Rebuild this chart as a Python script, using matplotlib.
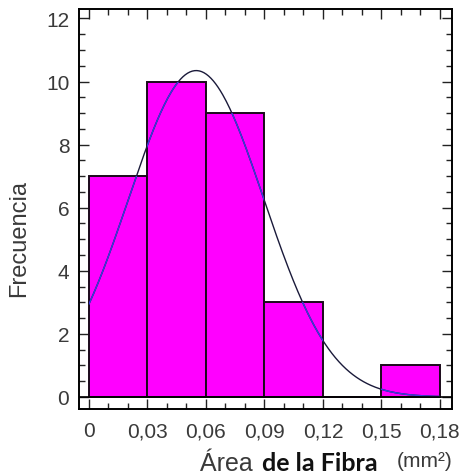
import numpy as np
import matplotlib.pyplot as plt
from matplotlib.ticker import MultipleLocator, FuncFormatter

# histogram of fibre area
bin_left = [0.0, 0.03, 0.06, 0.09, 0.12, 0.15]
counts = [7, 10, 9, 3, 0, 1]
bin_width = 0.03
xticks = [0, 0.03, 0.06, 0.09, 0.12, 0.15, 0.18]
yticks = [0, 2, 4, 6, 8, 10, 12]

# fitted normal
fit_mean = 0.055
fit_std = 0.0347
n_total = sum(counts)

plt.rcParams['font.family'] = ['Liberation Sans', 'DejaVu Sans']

fig = plt.figure(figsize=(4.63, 4.77), dpi=100)
ax = fig.add_axes([0.1706, 0.1405, 0.8056, 0.8386])

bars = ax.bar(bin_left, counts, width=bin_width, align='edge',
              color='#ff00ff', edgecolor='#1a0a1a', linewidth=1.4, zorder=2)

xs = np.linspace(0, 0.18, 300)
ys = n_total * bin_width / (fit_std * np.sqrt(2 * np.pi)) * np.exp(-0.5 * ((xs - fit_mean) / fit_std) ** 2)
ax.plot(xs, ys, color='#1a1a3a', lw=1.0, zorder=3)
# curve looks blue where it crosses the bars
for b in bars:
    ln, = ax.plot(xs, ys, color='#3a3ae0', lw=1.0, zorder=4)
    ln.set_clip_path(b)

ax.axhline(0, color='black', lw=1.2, zorder=5)

ax.set_xlim(-0.0051, 0.1862)
ax.set_ylim(-0.38, 12.3)
ax.set_xticks(xticks)
ax.set_yticks(yticks)
ax.xaxis.set_minor_locator(MultipleLocator(0.01))
ax.yaxis.set_minor_locator(MultipleLocator(0.5))
ax.xaxis.set_major_formatter(FuncFormatter(lambda v, p: '0' if abs(v) < 1e-9 else ('%.2f' % v).replace('.', ',')))
ax.tick_params(which='both', direction='in', top=True, right=True, width=1.0, color='#222222')
ax.tick_params(which='major', length=7, labelsize=15, labelcolor='#3a3a3a')
ax.tick_params(axis='x', which='major', pad=9)
ax.tick_params(axis='y', which='major', pad=7)
ax.tick_params(which='minor', length=4)
for s in ax.spines.values():
    s.set_linewidth(1.4)

fig.text(0.018, 0.5, 'Frecuencia', rotation=90, fontsize=17, color='#3a3a3a', va='center', ha='left')
fig.text(0.432, 0.012, 'Área', fontsize=18, color='#3a3a3a', ha='left', va='baseline')
fig.text(0.566, 0.012, 'de la Fibra', fontsize=18, fontweight='bold', family='Lato', color='#111111', ha='left', va='baseline')
fig.text(0.857, 0.022, '(mm²)', fontsize=15, color='#3a3a3a', ha='left', va='baseline')

fig.savefig('out.png', dpi=100)
